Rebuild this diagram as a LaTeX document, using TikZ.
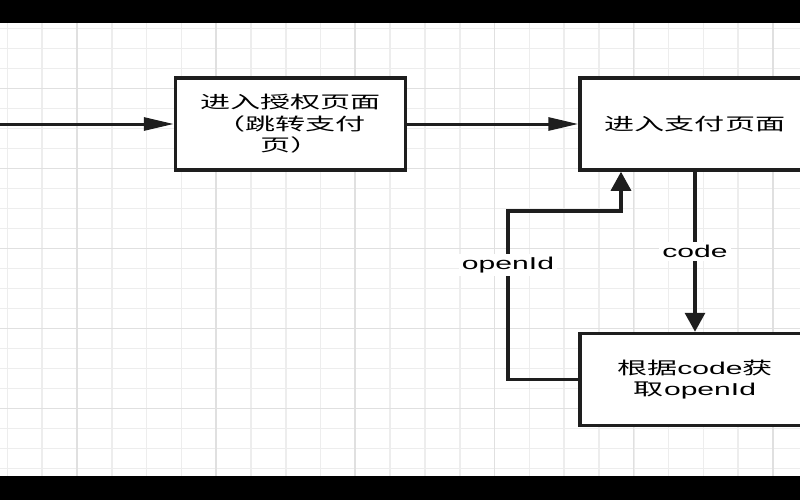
\documentclass[tikz,border=0pt]{standalone}
\usepackage{fontspec}
\usetikzlibrary{arrows.meta,positioning}

\newfontfamily\zhfont[FakeStretch=1.75]{Noto Sans CJK SC}
\newfontfamily\lafont[FakeStretch=1.75]{Liberation Sans}

\definecolor{gridminor}{HTML}{EDEDED}
\definecolor{gridmajor}{HTML}{E0E0E0}
\definecolor{inkline}{HTML}{1E1E1E}

\tikzset{
  stepbox/.style={draw=inkline, line width=1.75pt, fill=white,
    minimum width=115pt, minimum height=46pt, inner sep=0pt, align=center,
    font=\zhfont\fontsize{8.6pt}{10.75pt}\selectfont},
  harrow/.style={draw=inkline, line width=1.5pt,
    -{Triangle[length=15pt,width=6.5pt]}},
  varrow/.style={draw=inkline, line width=1.6pt,
    -{Triangle[length=9.5pt,width=10pt]}},
  flowlabel/.style={fill=white, inner sep=1.5pt,
    font=\lafont\fontsize{8.6pt}{10pt}\selectfont}
}

\begin{document}
\begin{tikzpicture}[x=.5pt,y=.5pt]

\clip
  (0,0) rectangle (800,500);

\foreach \k in {0,...,22}
  \draw[line width=.8pt, gridminor]
    (7.3+34.8*\k,0) -- (7.3+34.8*\k,500);
\foreach \k in {0,...,24}
  \draw[line width=.8pt, gridminor]
    (0,491.7-20*\k) -- (800,491.7-20*\k);
\foreach \k in {0,...,5}
  \draw[line width=.8pt, gridmajor]
    (76.7+139.2*\k,0) -- (76.7+139.2*\k,500);
\foreach \k in {0,...,6}
  \draw[line width=.8pt, gridmajor]
    (0,491.7-80*\k) -- (800,491.7-80*\k);

\fill[black]
  (0,477) rectangle (800,500);
\fill[black]
  (0,0) rectangle (800,24);

\coordinate (entry) at (0,376);
\coordinate (loopcorner) at (508,289);

\node[stepbox] (auth) at (290.5,376)
  {进入授权页面\\（跳转支付\\页）};
\node[stepbox] (pay) at (695,376)
  {进入支付页面};
\node[stepbox] (openid) at (695,120.5)
  {根据{\lafont code}获\\取{\lafont openId}};

\draw[harrow]
  (entry) -- (auth.west);

\draw[harrow]
  (auth.east) -- (pay.west);

\draw[varrow]
  (pay.south) -- node[flowlabel] {code} (openid.north);

\draw[varrow]
  (openid.west)
  -| node[pos=.84, flowlabel] {openId} (loopcorner)
  -| ([xshift=-37pt]pay.south);

\end{tikzpicture}
\end{document}
